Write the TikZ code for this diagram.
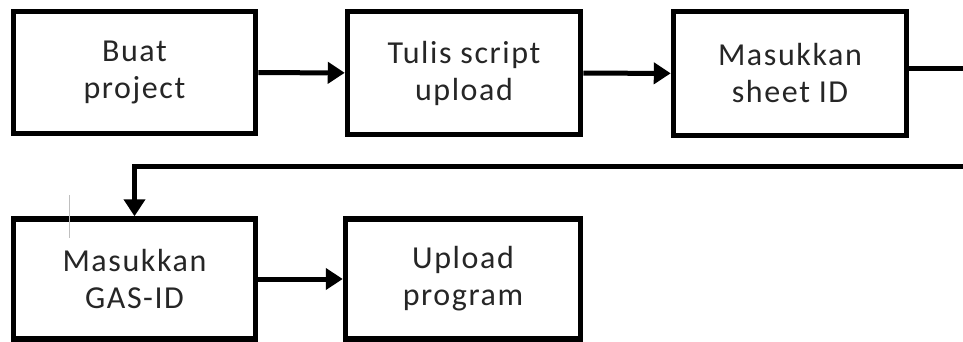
\documentclass[tikz,border=0pt]{standalone}
\usepackage{fontspec}
\setmainfont{Carlito}[LetterSpace=5]
\usetikzlibrary{arrows.meta}
\begin{document}
\begin{tikzpicture}[x=1pt,y=-1pt,
  stepbox/.style={draw=black, line width=5.5pt, fill=white, align=center,
    inner sep=0pt, font=\fontsize{32}{37}\selectfont, text=black!85,
    execute at begin node={\rule{0pt}{35pt}}},
  conn/.style={draw=black, line width=5pt, -{Triangle[length=17pt,width=21pt]}},
  plain/.style={draw=black, line width=5pt}]
\useasboundingbox (0,0) rectangle (963,342);
\node[stepbox, minimum width=242pt, minimum height=122pt] (b1) at (134.5,72.5) {Buat\\project};
\node[stepbox, minimum width=233pt, minimum height=123pt] (b2) at (464,73) {Tulis script\\upload};
\node[stepbox, minimum width=233pt, minimum height=124pt] (b3) at (790,73.5) {Masukkan\\sheet ID};
\node[stepbox, minimum width=242pt, minimum height=120pt] (b4) at (134.5,279) {Masukkan\\GAS-ID};
\node[stepbox, minimum width=235pt, minimum height=120pt] (b5) at (463,279) {Upload\\program};
\coordinate (r1) at (963,69);
\coordinate (r2) at (963,166);
\draw[conn] (b1) -- (b2);
\draw[conn] (b2) -- (b3);
\draw[plain] (b3.east |- r1) -- (r1);
\draw[conn] (r2) -| (b4.north);
\draw[conn] (b4) -- (b5);
\coordinate (g1) at (69,195);
\coordinate (g2) at (69,238);
\draw[black!25, line width=0.8pt] (g1) -- (g2);
\end{tikzpicture}
\end{document}
